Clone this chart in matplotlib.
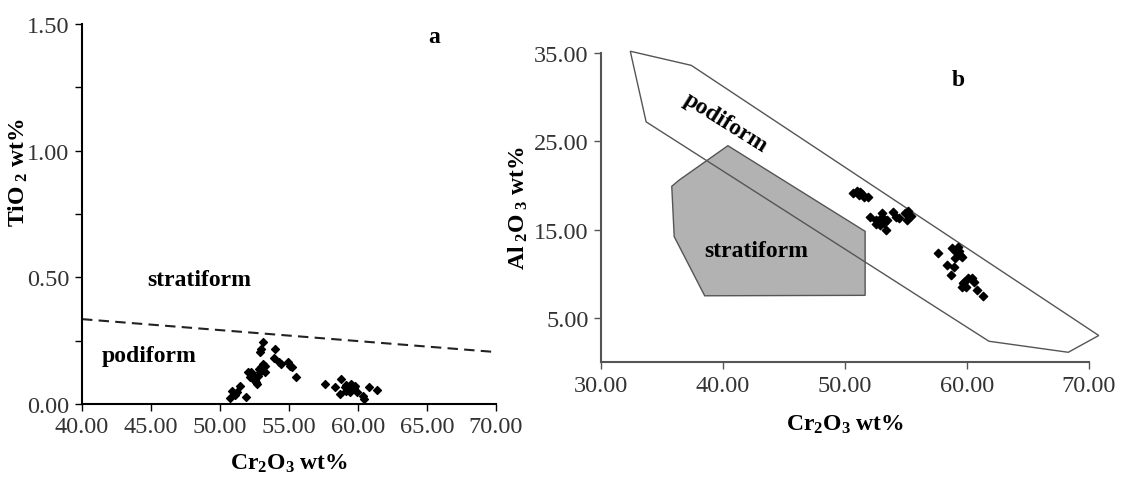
import matplotlib
matplotlib.use('Agg')

import matplotlib.pyplot as plt
from matplotlib.patches import Polygon
import numpy as np

plt.rcParams['font.family'] = 'Liberation Serif'
plt.rcParams['mathtext.fontset'] = 'custom'
plt.rcParams['mathtext.rm'] = 'Liberation Serif:bold'
plt.rcParams['mathtext.it'] = 'Liberation Serif:bold'
plt.rcParams['mathtext.bf'] = 'Liberation Serif:bold'

# panel a: Cr2O3 vs TiO2
cr_a = [50.71, 50.88, 51.24, 51.43, 51.07, 51.86, 52.03, 52.27, 52.15, 52.39,
        52.59, 52.76, 52.88, 52.68, 53.00, 53.12, 53.24, 52.88, 53.00, 53.12,
        53.24, 52.47, 53.96, 53.88, 54.27, 54.44, 54.93, 55.05, 55.24, 55.53,
        57.58, 58.30, 58.79, 58.66, 59.03, 59.15, 59.27, 59.51, 59.39, 59.68,
        59.92, 60.35, 60.47, 60.83, 61.37, 52.55, 52.80, 59.10, 59.80]
ti_a = [0.024, 0.053, 0.046, 0.072, 0.036, 0.029, 0.125, 0.128, 0.105, 0.099,
        0.086, 0.112, 0.128, 0.079, 0.145, 0.158, 0.125, 0.204, 0.217, 0.243,
        0.151, 0.112, 0.217, 0.180, 0.167, 0.158, 0.167, 0.151, 0.145, 0.108,
        0.079, 0.068, 0.099, 0.039, 0.066, 0.075, 0.059, 0.079, 0.049, 0.062,
        0.046, 0.030, 0.020, 0.066, 0.057, 0.095, 0.140, 0.052, 0.070]
boundary_x = [40.0, 70.0]
boundary_y = [0.335, 0.205]

# panel b: Cr2O3 vs Al2O3
cr_b = [50.69, 51.01, 51.24, 51.40, 51.56, 51.88, 51.15,
        52.04, 52.52, 53.00, 53.16, 52.84, 53.32, 52.50, 53.96, 54.22, 54.44,
        54.92, 55.18, 55.40, 55.08, 53.48, 53.06,
        57.65, 58.77, 59.09, 59.40, 59.25, 59.02, 58.39, 58.93, 58.71, 59.58, 59.35,
        59.74, 59.58, 60.06, 60.38, 60.54, 59.90, 60.86, 61.34, 59.67]
al_b = [19.18, 19.41, 19.30, 19.00, 18.73, 18.65, 18.95,
        16.39, 16.08, 16.84, 15.78, 15.51, 14.95, 15.63, 17.03, 16.46, 16.27,
        16.84, 17.14, 16.54, 16.08, 16.08, 16.46,
        12.30, 12.87, 12.49, 12.11, 13.06, 11.73, 10.97, 10.78, 9.84, 11.92, 12.60,
        9.08, 8.52, 9.46, 9.46, 9.08, 8.52, 8.21, 7.49, 8.90]
podiform_cr = [32.4, 37.4, 70.8, 68.3, 61.8, 33.7]
podiform_al = [35.2, 33.6, 3.0, 1.1, 2.35, 27.2]
stratiform_cr = [40.4, 51.65, 51.65, 38.5, 36.0, 35.8, 36.4]
stratiform_al = [24.5, 14.8, 7.55, 7.5, 14.2, 19.9, 20.6]

W, H = 1129, 489
fig = plt.figure(figsize=(W / 100, H / 100), dpi=100)

def px_axes(left, top, right, bottom):
  return fig.add_axes([left / W, 1 - bottom / H, (right - left) / W, (bottom - top) / H])

tick_color = '#333333'
tick_size = 17.5
label_size = 17
region_size = 17

# ---- panel a ----
ax = px_axes(82, 25, 496, 405)
ax.scatter(cr_a, ti_a, marker='D', s=16, color='k', zorder=3)
ax.plot(boundary_x, boundary_y, color='#222222', linestyle=(0, (5, 3)), linewidth=1.5)
ax.set_xlim(40, 70)
ax.set_ylim(0, 1.5)
ax.set_xticks(np.arange(40, 71, 5))
ax.set_xticklabels(['%.2f' % v for v in np.arange(40, 71, 5)])
ax.set_yticks([0, 0.5, 1.0, 1.5])
ax.set_yticklabels(['0.00', '0.50', '1.00', '1.50'])
ax.set_yticks([0.25, 0.75, 1.25], minor=True)
ax.tick_params(axis='both', direction='out', length=5, width=1, labelsize=tick_size,
               labelcolor=tick_color, pad=4)
ax.tick_params(axis='y', which='minor', direction='out', length=5, width=1)
for s in ['top', 'right']:
  ax.spines[s].set_visible(False)
for s in ['left', 'bottom']:
  ax.spines[s].set_linewidth(1.5)
ax.set_xlabel(r'Cr$_2$O$_3$ wt%', fontsize=label_size, fontweight='bold')
ax.xaxis.set_label_coords(0.5, -0.125)
ax.set_ylabel(r'TiO$_{\ 2}$ wt%', fontsize=label_size, fontweight='bold')
ax.yaxis.set_label_coords(-0.125, 0.61)
ax.text(48.5, 0.49, 'stratiform', fontsize=region_size, fontweight='bold', ha='center', va='center')
ax.text(44.9, 0.19, 'podiform', fontsize=region_size, fontweight='bold', ha='center', va='center')
ax.text(65.5, 1.45, 'a', fontsize=region_size, fontweight='bold', ha='center', va='center')

# ---- panel b ----
bx = px_axes(601, 54, 1089, 363)
edge = '#555555'
bx.add_patch(Polygon(np.column_stack([stratiform_cr, stratiform_al]), closed=True,
                     facecolor='#b2b2b2', edgecolor=edge, linewidth=1, zorder=1,
                     clip_on=False))
bx.add_patch(Polygon(np.column_stack([podiform_cr, podiform_al]), closed=True,
                     facecolor='none', edgecolor=edge, linewidth=1, zorder=2,
                     clip_on=False))
bx.scatter(cr_b, al_b, marker='D', s=18, color='k', zorder=3)
bx.set_xlim(30, 70)
bx.set_ylim(0, 35)
bx.set_xticks(np.arange(30, 71, 10))
bx.set_xticklabels(['%.2f' % v for v in np.arange(30, 71, 10)])
bx.set_yticks([5, 15, 25, 35])
bx.set_yticklabels(['5.00', '15.00', '25.00', '35.00'])
bx.tick_params(axis='both', direction='out', length=5, width=1, labelsize=tick_size,
               labelcolor=tick_color, color=edge, pad=4)
for s in ['top', 'right']:
  bx.spines[s].set_visible(False)
for s in ['left', 'bottom']:
  bx.spines[s].set_linewidth(1.5)
  bx.spines[s].set_color(edge)
bx.set_xlabel(r'Cr$_2$O$_3$ wt%', fontsize=label_size, fontweight='bold')
bx.xaxis.set_label_coords(0.5, -0.165)
bx.set_ylabel(r'Al$_{\ 2}$O$_{\ 3}$ wt%', fontsize=label_size, fontweight='bold')
bx.yaxis.set_label_coords(-0.145, 0.5)
bx.text(40.2, 27.2, 'podiform', fontsize=region_size, fontweight='bold', ha='center',
        va='center', rotation=-32, rotation_mode='anchor')
bx.text(42.7, 12.6, 'stratiform', fontsize=region_size, fontweight='bold', ha='center', va='center')
bx.text(59.25, 32.0, 'b', fontsize=region_size, fontweight='bold', ha='center', va='center')

fig.savefig('out.png', dpi=100)
plt.close()
